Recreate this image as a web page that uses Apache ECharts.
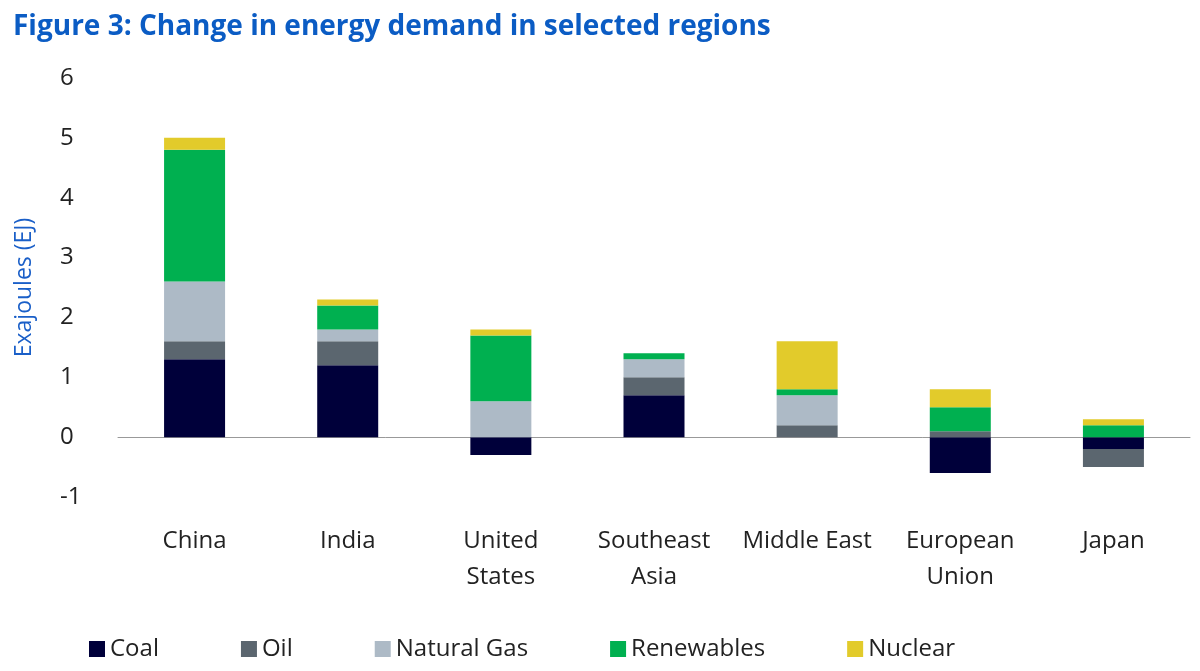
<!DOCTYPE html>
<html lang="en">
<head>
<meta charset="UTF-8">
<title>Figure 3</title>
<script src="https://cdn.jsdelivr.net/npm/echarts@6/dist/echarts.min.js"></script>
<style>html,body{margin:0;padding:0;background:#fff;}</style>
</head>
<body>
<div id="main" style="width:1200px;height:671px;"></div>
<script>
var regions = ['China', 'India', 'United\nStates', 'Southeast\nAsia', 'Middle East', 'European\nUnion', 'Japan'];
var coal       = [1.3, 1.2, -0.3, 0.7, 0,   -0.6, -0.2];
var oil        = [0.3, 0.4, 0,    0.3, 0.2,  0.1, -0.3];
var naturalGas = [1.0, 0.2, 0.6,  0.3, 0.5,  0,    0];
var renewables = [2.2, 0.4, 1.1,  0.1, 0.1,  0.4,  0.2];
var nuclear    = [0.2, 0.1, 0.1,  0,   0.8,  0.3,  0.1];

var font = 'Open Sans';
function s(name, data, color) {
    return { name: name, type: 'bar', stack: 'total', data: data, barWidth: 61,
             itemStyle: { color: color } };
}
var myChart = echarts.init(document.getElementById('main'));
myChart.setOption({
    animation: false,
    textStyle: { fontFamily: font },
    title: {
        text: 'Figure 3: Change in energy demand in selected regions',
        left: 8, top: 8,
        textStyle: { color: '#0b5cc4', fontSize: 28, fontWeight: 'bold', fontFamily: font }
    },
    grid: { left: 118, right: 10, top: 78, bottom: 174 },
    legend: {
        bottom: 5, left: 84, itemGap: 82, itemWidth: 16, itemHeight: 16,
        icon: 'rect',
        textStyle: { fontSize: 24, color: '#222' },
        data: ['Coal', 'Oil', 'Natural Gas', 'Renewables', 'Nuclear']
    },
    xAxis: [{
        type: 'category', data: regions,
        axisLine: { onZero: true, lineStyle: { color: '#999' } },
        axisTick: { show: false },
        axisLabel: { show: false }
    }, {
        type: 'category', data: regions, position: 'bottom',
        axisLine: { show: false }, axisTick: { show: false },
        axisLabel: { interval: 0, fontSize: 24, color: '#222', lineHeight: 36, margin: 26 }
    }],
    yAxis: {
        type: 'value', min: -1, max: 6, interval: 1,
        name: 'Exajoules (EJ)', nameLocation: 'middle', nameGap: 82,
        nameTextStyle: { color: '#1a5fc8', fontSize: 23 },
        axisLabel: { fontSize: 24, color: '#222', margin: 28, align: 'left', padding: [0, 0, 0, -30] },
        splitLine: { show: false },
        axisLine: { show: false }, axisTick: { show: false }
    },
    series: [
        s('Coal', coal, '#00003a'),
        s('Oil', oil, '#5b666f'),
        s('Natural Gas', naturalGas, '#adbac6'),
        s('Renewables', renewables, '#00b050'),
        s('Nuclear', nuclear, '#e2cb2b')
    ]
});
</script>
</body>
</html>
